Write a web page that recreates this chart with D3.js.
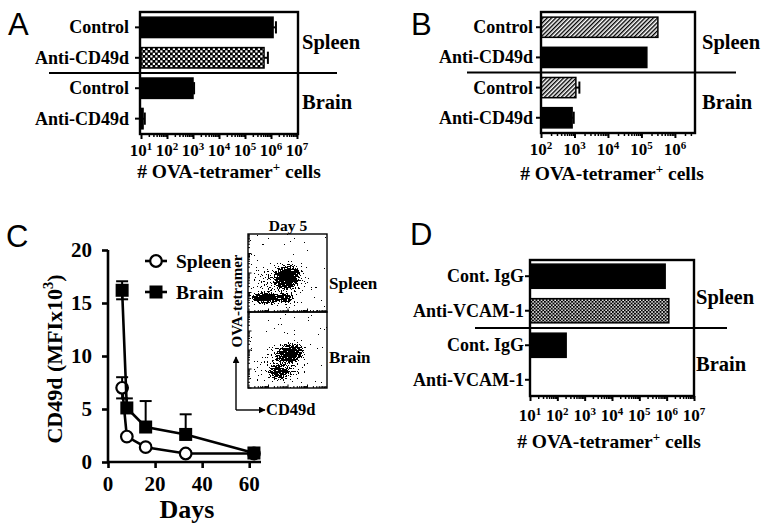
<!DOCTYPE html>
<html><head><meta charset="utf-8">
<script src="https://cdn.jsdelivr.net/npm/d3@7"></script>
<style>body{margin:0;background:#fff}svg{display:block}</style>
</head><body>
<script>
// ---------------- DATA ----------------
// Panel A
const aLabels = ["Control", "Anti-CD49d", "Control", "Anti-CD49d"];
const aValues = [1.2e6, 5.4e5, 1.0e3, 12];
const aErrors = [1.55e6, 7.6e5, 1.1e3, 14];
const aTicks = [1e1, 1e2, 1e3, 1e4, 1e5, 1e6, 1e7];
// Panel B
const bLabels = ["Control", "Anti-CD49d", "Control", "Anti-CD49d"];
const bValues = [3.1e5, 1.45e5, 1.1e3, 850];
const bErrors = [3.1e5, 1.45e5, 1.4e3, 950];
const bTicks = [1e2, 1e3, 1e4, 1e5, 1e6];
// Panel D
const dLabels = ["Cont. IgG", "Anti-VCAM-1", "Cont. IgG", "Anti-VCAM-1"];
const dValues = [8.8e5, 1.2e6, 2.1e2, 10];
const dTicks = [1e1, 1e2, 1e3, 1e4, 1e5, 1e6, 1e7];
const groups = ["Spleen", "Brain"];
// Panel C
const days = [6, 8, 16, 33, 62];
const spleenMFI = [7.0, 2.4, 1.4, 0.8, 0.8];
const spleenErrUp = [1.0, 0.2, 0.2, 0.2, 0.2];
const spleenErrDown = [1.0, 0, 0, 0, 0];
const brainMFI = [16.2, 5.1, 3.3, 2.6, 0.85];
const brainErrUp = [0.85, 0.9, 2.45, 1.9, 0.3];
const brainErrDown = [0.85, 0, 0, 0, 0];
const cYTicks = [0, 5, 10, 15, 20];
const cXTicks = [0, 20, 40, 60];
// Inset (Day 5) cell clusters, in decades of fluorescence (CD49d, OVA-tetramer)
const spleenClusters = [
  {cx: 1.6, cy: 1.4, rx: 1.8, ry: 1.4, d: 0.32, rot: 0},
  {cx: 1.97, cy: 1.80, rx: 0.85, ry: 0.68, d: 1.0, rot: -30},
  {cx: 0.85, cy: 0.72, rx: 0.95, ry: 0.36, d: 1.0, rot: 0},
  {cx: 1.85, cy: 0.72, rx: 0.5, ry: 0.3, d: 0.85, rot: 0}
];
const brainClusters = [
  {cx: 1.8, cy: 1.3, rx: 1.4, ry: 1.2, d: 0.32, rot: 0},
  {cx: 2.13, cy: 1.84, rx: 0.88, ry: 0.62, d: 0.95, rot: -15},
  {cx: 1.52, cy: 0.85, rx: 0.7, ry: 0.52, d: 0.68, rot: 0}
];

// ---------------- STYLE ----------------
const SERIF = "'Liberation Serif','Times New Roman',serif";
const SANS = "'Liberation Sans',Arial,sans-serif";
const svg = d3.select("body").append("svg").attr("width", 764).attr("height", 530);
const defs = svg.append("defs");

const pA = defs.append("pattern").attr("id", "checkA").attr("patternUnits", "userSpaceOnUse")
  .attr("width", 5).attr("height", 5);
pA.append("rect").attr("width", 5).attr("height", 5).attr("fill", "#000");
pA.append("rect").attr("x", 0.3).attr("y", 0.3).attr("width", 2.2).attr("height", 2.2).attr("fill", "#fff");
pA.append("rect").attr("x", 2.8).attr("y", 2.8).attr("width", 2.2).attr("height", 2.2).attr("fill", "#fff");
const pD = defs.append("pattern").attr("id", "checkD").attr("patternUnits", "userSpaceOnUse")
  .attr("width", 3.4).attr("height", 3.4);
pD.append("rect").attr("width", 3.4).attr("height", 3.4).attr("fill", "#000");
pD.append("rect").attr("x", 0.2).attr("y", 0.2).attr("width", 1.5).attr("height", 1.5).attr("fill", "#fff");
pD.append("rect").attr("x", 1.9).attr("y", 1.9).attr("width", 1.5).attr("height", 1.5).attr("fill", "#fff");
const pB = defs.append("pattern").attr("id", "hatchB").attr("patternUnits", "userSpaceOnUse")
  .attr("width", 3).attr("height", 3).attr("patternTransform", "rotate(45)");
pB.append("rect").attr("width", 3).attr("height", 3).attr("fill", "#fff");
pB.append("line").attr("x1", 0.7).attr("y1", 0).attr("x2", 0.7).attr("y2", 3).attr("stroke", "#000").attr("stroke-width", 1.4);

const aFill = ["#000", "url(#checkA)", "#000", "#000"];
const bFill = ["url(#hatchB)", "#000", "url(#hatchB)", "#000"];
const dFill = ["#000", "url(#checkD)", "#000", "#000"];

function supText(sel, base, sup, rest, supSize, dyUp) {
  sel.append("tspan").text(base);
  sel.append("tspan").attr("dy", -dyUp).attr("font-size", supSize).text(sup);
  if (rest !== null) sel.append("tspan").attr("dy", dyUp).text(rest);
}

function logMinor(domain) {
  const out = [];
  const k0 = Math.floor(Math.log10(domain[0])), k1 = Math.ceil(Math.log10(domain[1]));
  for (let k = k0; k <= k1; k++) for (let m = 2; m <= 9; m++) {
    const v = m * Math.pow(10, k);
    if (v >= domain[0] && v <= domain[1] * 1.0001) out.push(v);
  }
  return out;
}

function barPanel(c) {
  const g = svg.append("g");
  const x = d3.scaleLog().domain(c.domain).range(c.xRange);
  const y = d3.scaleBand().domain(d3.range(c.labels.length)).range(c.yRange)
    .paddingInner(c.padIn).paddingOuter(c.padOut);
  const x0 = c.xRange[0];
  const bh = y.bandwidth();
  c.values.forEach((v, i) => {
    const w = x(v) - x0;
    if (w > 0.5) {
      g.append("rect").attr("x", x0).attr("y", y(i)).attr("width", w).attr("height", bh)
        .attr("fill", c.fills[i]).attr("stroke", "#000").attr("stroke-width", 1.5);
    }
    if (c.errors && c.errors[i] > v) {
      const ex = x(c.errors[i]), cy = y(i) + bh / 2;
      g.append("line").attr("x1", x(v)).attr("x2", ex).attr("y1", cy).attr("y2", cy)
        .attr("stroke", "#000").attr("stroke-width", 2);
      g.append("line").attr("x1", ex).attr("x2", ex).attr("y1", cy - bh * 0.3).attr("y2", cy + bh * 0.3)
        .attr("stroke", "#000").attr("stroke-width", 2);
    }
  });
  g.append("rect").attr("x", c.frame[0]).attr("y", c.yRange[0]).attr("width", c.frame[1] - c.frame[0])
    .attr("height", c.yRange[1] - c.yRange[0]).attr("fill", "none").attr("stroke", "#000").attr("stroke-width", 2.4);
  const ax = g.append("g").attr("transform", `translate(0,${c.yRange[1]})`);
  ax.call(d3.axisBottom(x).tickValues(c.ticks).tickSize(5).tickFormat(""));
  ax.call(a => a.selectAll(".domain").remove());
  ax.selectAll("line").attr("stroke-width", 2);
  const mi = g.append("g").attr("transform", `translate(0,${c.yRange[1]})`);
  mi.call(d3.axisBottom(x).tickValues(logMinor(c.domain)).tickSize(3).tickFormat(""));
  mi.call(a => a.selectAll(".domain").remove());
  mi.selectAll("line").attr("stroke-width", 1.5);
  c.ticks.forEach(t => {
    const tx = g.append("text").attr("x", x(t)).attr("y", c.tickLabelY).attr("text-anchor", "middle")
      .attr("font-family", SERIF).attr("font-weight", "bold").attr("font-size", 17);
    supText(tx, "10", String(Math.round(Math.log10(t))), null, 11, 6.5);
  });
  c.labels.forEach((l, i) => {
    const cy = y(i) + bh / 2;
    g.append("line").attr("x1", c.frame[0] - 5).attr("x2", c.frame[0]).attr("y1", cy).attr("y2", cy)
      .attr("stroke", "#000").attr("stroke-width", 2);
    g.append("text").attr("x", c.labelEnd).attr("y", cy + 6).attr("text-anchor", "end")
      .attr("font-family", SERIF).attr("font-weight", "bold").attr("font-size", 18).text(l);
  });
  const divY = (y(1) + bh + y(2)) / 2;
  g.append("line").attr("x1", c.divider[0]).attr("x2", c.divider[1]).attr("y1", divY).attr("y2", divY)
    .attr("stroke", "#000").attr("stroke-width", 2.2);
  groups.forEach((gr, gi) => {
    g.append("text").attr("x", c.groupX).attr("y", c.groupY[gi])
      .attr("font-family", SERIF).attr("font-weight", "bold").attr("font-size", 20.5).text(gr);
  });
  const xl = g.append("text").attr("x", c.xLabel[0]).attr("y", c.xLabel[1]).attr("text-anchor", "middle")
    .attr("font-family", SERIF).attr("font-weight", "bold").attr("font-size", 19.5);
  supText(xl, "# OVA-tetramer", "+", c.supGap ? "  cells" : " cells", 13, 7.5);
}

barPanel({labels: aLabels, values: aValues, errors: aErrors, fills: aFill, domain: [1e1, 1e7],
  xRange: [141, 297], frame: [140, 298], yRange: [12, 134], padIn: 0.33, padOut: 0.17, ticks: aTicks,
  tickLabelY: 156, labelEnd: 129, divider: [49, 337], groupX: 302, groupY: [49, 109],
  xLabel: [229, 178]});
barPanel({labels: bLabels, values: bValues, errors: bErrors, fills: bFill, domain: [1e2, Math.pow(10, 6.6)],
  xRange: [541, 695], frame: [541, 695], yRange: [12, 133], padIn: 0.33, padOut: 0.17, ticks: bTicks,
  tickLabelY: 155, labelEnd: 533, divider: [467, 736], groupX: 702, groupY: [49, 109],
  xLabel: [612, 180], supGap: true});
barPanel({labels: dLabels, values: dValues, errors: null, fills: dFill, domain: [1e1, 1e7],
  xRange: [530, 694], frame: [530, 694], yRange: [260, 396], padIn: 0.3, padOut: 0.12, ticks: dTicks,
  tickLabelY: 421, labelEnd: 524, divider: [475, 727], groupX: 696, groupY: [304, 371],
  xLabel: [609, 448]});

// ---------------- PANEL C ----------------
const gc = svg.append("g");
const xC = d3.scaleLinear().domain([0, 65]).range([108, 261]);
const yC = d3.scaleLinear().domain([0, 20]).range([462, 250]);
const yAx = gc.append("g").attr("transform", "translate(108,0)")
  .call(d3.axisLeft(yC).tickValues(cYTicks).tickSize(6).tickFormat(""));
yAx.selectAll("line,path").attr("stroke-width", 2.6);
yAx.select(".domain").attr("d", `M0,${yC(20)}V${yC(0)}`);
const xAx = gc.append("g").attr("transform", "translate(0,462)")
  .call(d3.axisBottom(xC).tickValues(cXTicks).tickSize(6).tickFormat(""));
xAx.selectAll("line,path").attr("stroke-width", 2.6);
xAx.select(".domain").attr("d", `M${xC(0)},0H${xC(65)}`);
cYTicks.forEach(t => gc.append("text").attr("x", 92).attr("y", yC(t) + 7).attr("text-anchor", "end")
  .attr("font-family", SERIF).attr("font-weight", "bold").attr("font-size", 21).text(t));
cXTicks.forEach(t => gc.append("text").attr("x", xC(t)).attr("y", 491).attr("text-anchor", "middle")
  .attr("font-family", SERIF).attr("font-weight", "bold").attr("font-size", 21).text(t));
gc.append("text").attr("x", 187).attr("y", 518).attr("text-anchor", "middle")
  .attr("font-family", SERIF).attr("font-weight", "bold").attr("font-size", 26).text("Days");
const yl = gc.append("text").attr("transform", "translate(62,359) rotate(-90)").attr("text-anchor", "middle")
  .attr("font-family", SERIF).attr("font-weight", "bold").attr("font-size", 22);
supText(yl, "CD49d (MFIx10", "3", ")", 14.5, 9);

function series(vals, up, down, shape) {
  const line = d3.line().x((d, i) => xC(days[i])).y(d => yC(d));
  gc.append("path").datum(vals).attr("d", line).attr("fill", "none").attr("stroke", "#000").attr("stroke-width", 2.6);
  vals.forEach((v, i) => {
    const px = xC(days[i]);
    const top = yC(v + up[i]), bot = yC(v - down[i]);
    gc.append("line").attr("x1", px).attr("x2", px).attr("y1", top).attr("y2", bot).attr("stroke", "#000").attr("stroke-width", 2);
    gc.append("line").attr("x1", px - 6).attr("x2", px + 6).attr("y1", top).attr("y2", top).attr("stroke", "#000").attr("stroke-width", 2);
    if (down[i] > 0) gc.append("line").attr("x1", px - 6).attr("x2", px + 6).attr("y1", bot).attr("y2", bot).attr("stroke", "#000").attr("stroke-width", 2);
  });
  vals.forEach((v, i) => {
    const px = xC(days[i]), py = yC(v);
    if (shape === "circle") gc.append("circle").attr("cx", px).attr("cy", py).attr("r", 5.8)
      .attr("fill", "#fff").attr("stroke", "#000").attr("stroke-width", 2.2);
    else gc.append("rect").attr("x", px - 6.5).attr("y", py - 6.5).attr("width", 13).attr("height", 13).attr("fill", "#000");
  });
}
series(spleenMFI, spleenErrUp, spleenErrDown, "circle");
series(brainMFI, brainErrUp, brainErrDown, "square");
[["Spleen", 261, "circle"], ["Brain", 292, "square"]].forEach(([name, ly, sh]) => {
  gc.append("line").attr("x1", 145).attr("x2", 167).attr("y1", ly).attr("y2", ly).attr("stroke", "#000").attr("stroke-width", 2.6);
  if (sh === "circle") gc.append("circle").attr("cx", 156).attr("cy", ly).attr("r", 5.8).attr("fill", "#fff").attr("stroke", "#000").attr("stroke-width", 2.2);
  else gc.append("rect").attr("x", 149.5).attr("y", ly - 6.5).attr("width", 13).attr("height", 13).attr("fill", "#000");
  gc.append("text").attr("x", 176).attr("y", ly + 6.5).attr("font-family", SERIF).attr("font-weight", "bold")
    .attr("font-size", 19.5).text(name);
});

// ---------------- INSET ----------------
// speckle filter: dot where 0.45*density + noise - 0.22 >= 0.5
const flt = defs.append("filter").attr("id", "speckle").attr("filterUnits", "userSpaceOnUse")
  .attr("x", 240).attr("y", 225).attr("width", 100).attr("height", 175).attr("color-interpolation-filters", "sRGB");
flt.append("feTurbulence").attr("type", "fractalNoise").attr("baseFrequency", 0.7).attr("numOctaves", 1).attr("seed", 7).attr("result", "noise");
flt.append("feColorMatrix").attr("in", "noise").attr("type", "matrix")
  .attr("values", "0 0 0 0 0  0 0 0 0 0  0 0 0 0 0  1 0 0 0 0").attr("result", "na");
flt.append("feComposite").attr("in", "SourceGraphic").attr("in2", "na").attr("operator", "arithmetic")
  .attr("k1", 0).attr("k2", 0.45).attr("k3", 1).attr("k4", -0.22).attr("result", "sum");
const ct = flt.append("feComponentTransfer").attr("in", "sum").attr("result", "th");
ct.append("feFuncA").attr("type", "discrete").attr("tableValues", "0 1");
flt.append("feFlood").attr("flood-color", "#000").attr("result", "blk");
flt.append("feComposite").attr("in", "blk").attr("in2", "th").attr("operator", "in");

const ix = d3.scaleLinear().domain([0, 4]).range([249, 327]);
const insets = [
  {name: "Spleen", clusters: spleenClusters, y0: 312, y1: 234, labelY: 289},
  {name: "Brain", clusters: brainClusters, y0: 388, y1: 312, labelY: 363}
];
let gid = 0;
insets.forEach(p => {
  const iy = d3.scaleLinear().domain([0, 4]).range([p.y0, p.y1]);
  const cid = "clip" + p.name;
  defs.append("clipPath").attr("id", cid).append("rect").attr("x", 249).attr("y", p.y1).attr("width", 78).attr("height", p.y0 - p.y1);
  const cg = svg.append("g").attr("clip-path", `url(#${cid})`).append("g").attr("filter", "url(#speckle)");
  p.clusters.forEach(c => {
    const id = "grad" + (gid++);
    const gr = defs.append("radialGradient").attr("id", id);
    [[0, 1], [0.35, 0.9], [0.65, 0.6], [0.85, 0.3], [1, 0]].forEach(([o, f]) =>
      gr.append("stop").attr("offset", o).attr("stop-color", "#000").attr("stop-opacity", c.d * f));
    const ex = ix(c.cx), ey = iy(c.cy);
    cg.append("ellipse").attr("cx", ex).attr("cy", ey)
      .attr("rx", ix(c.rx) - ix(0)).attr("ry", iy(0) - iy(c.ry)).attr("fill", `url(#${id})`)
      .attr("transform", `rotate(${c.rot},${ex},${ey})`);
  });
  svg.append("rect").attr("x", 248).attr("y", p.y1).attr("width", 79).attr("height", p.y0 - p.y1)
    .attr("fill", "none").attr("stroke", "#000").attr("stroke-width", 1.4);
  for (let k = 0; k < 4; k++) for (let m = 1; m <= 9; m++) {
    const v = k + Math.log10(m);
    const len = m === 1 ? 3.5 : 2;
    svg.append("line").attr("x1", ix(v)).attr("x2", ix(v)).attr("y1", p.y0).attr("y2", p.y0 - len).attr("stroke", "#000").attr("stroke-width", 1);
    svg.append("line").attr("x1", 248).attr("x2", 248 + len).attr("y1", iy(v)).attr("y2", iy(v)).attr("stroke", "#000").attr("stroke-width", 1);
  }
  svg.append("text").attr("x", 329).attr("y", p.labelY).attr("font-family", SERIF).attr("font-weight", "bold")
    .attr("font-size", 17).text(p.name);
});
svg.append("text").attr("x", 288).attr("y", 231).attr("text-anchor", "middle").attr("font-family", SERIF)
  .attr("font-weight", "bold").attr("font-size", 15.5).text("Day 5");
svg.append("text").attr("transform", "translate(242,301) rotate(-90)").attr("text-anchor", "middle")
  .attr("font-family", SERIF).attr("font-weight", "bold").attr("font-size", 15).text("OVA-tetramer");
defs.append("marker").attr("id", "arr").attr("viewBox", "0 0 10 10").attr("refX", 9).attr("refY", 5)
  .attr("markerWidth", 7).attr("markerHeight", 7).attr("markerUnits", "userSpaceOnUse").attr("orient", "auto")
  .append("path").attr("d", "M0,0L10,5L0,10Z").attr("fill", "#000");
svg.append("path").attr("d", "M236,410V357").attr("stroke", "#000").attr("stroke-width", 1.4).attr("fill", "none").attr("marker-end", "url(#arr)");
svg.append("path").attr("d", "M236,410H265").attr("stroke", "#000").attr("stroke-width", 1.4).attr("fill", "none").attr("marker-end", "url(#arr)");
svg.append("text").attr("x", 266).attr("y", 415).attr("font-family", SERIF).attr("font-weight", "bold")
  .attr("font-size", 16.5).text("CD49d");

// ---------------- PANEL LETTERS ----------------
[["A", 8, 35], ["B", 411, 35], ["C", 6, 247], ["D", 410, 245]].forEach(([t, x, y]) =>
  svg.append("text").attr("x", x).attr("y", y).attr("font-family", SANS).attr("font-size", 31).text(t));
</script>
</body></html>
